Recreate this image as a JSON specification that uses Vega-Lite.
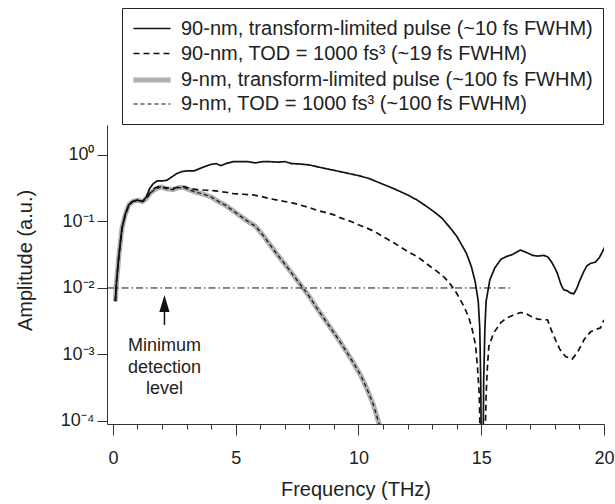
{
  "$schema": "https://vega.github.io/schema/vega-lite/v6.json",
  "width": 497,
  "height": 299,
  "autosize": {"type": "none"},
  "padding": {"left": 107, "top": 125, "right": 11, "bottom": 80},
  "config": {
    "view": {"stroke": null},
    "font": "Liberation Sans",
    "axis": {
      "domainColor": "#333",
      "tickColor": "#333",
      "labelColor": "#222",
      "titleColor": "#222",
      "grid": false,
      "labelFont": "Liberation Sans",
      "titleFont": "Liberation Sans",
      "titleFontWeight": "normal"
    }
  },
  "resolve": {"axis": {"x": "independent", "y": "independent"}},
  "datasets": {
    "curves": [
      {"f": 0.1, "a": 0.00631, "s": "tl9"}, {"f": 0.15, "a": 0.0126, "s": "tl9"}, {"f": 0.24, "a": 0.0295, "s": "tl9"}, {"f": 0.37, "a": 0.0794, "s": "tl9"}, {"f": 0.5, "a": 0.126, "s": "tl9"}, {"f": 0.65, "a": 0.178, "s": "tl9"}, {"f": 0.8, "a": 0.1995, "s": "tl9"}, {"f": 1.0, "a": 0.209, "s": "tl9"}, {"f": 1.2, "a": 0.1995, "s": "tl9"}, {"f": 1.35, "a": 0.219, "s": "tl9"}, {"f": 1.5, "a": 0.263, "s": "tl9"}, {"f": 1.7, "a": 0.302, "s": "tl9"}, {"f": 1.95, "a": 0.331, "s": "tl9"}, {"f": 2.2, "a": 0.309, "s": "tl9"}, {"f": 2.45, "a": 0.302, "s": "tl9"}, {"f": 2.7, "a": 0.324, "s": "tl9"}, {"f": 2.9, "a": 0.324, "s": "tl9"}, {"f": 3.15, "a": 0.295, "s": "tl9"}, {"f": 3.4, "a": 0.275, "s": "tl9"}, {"f": 3.7, "a": 0.257, "s": "tl9"}, {"f": 4.0, "a": 0.234, "s": "tl9"}, {"f": 4.3, "a": 0.1995, "s": "tl9"}, {"f": 4.6, "a": 0.174, "s": "tl9"}, {"f": 4.9, "a": 0.1445, "s": "tl9"}, {"f": 5.2, "a": 0.1202, "s": "tl9"}, {"f": 5.5, "a": 0.1, "s": "tl9"}, {"f": 5.8, "a": 0.0851, "s": "tl9"}, {"f": 6.1, "a": 0.0631, "s": "tl9"}, {"f": 6.4, "a": 0.0447, "s": "tl9"}, {"f": 6.7, "a": 0.0316, "s": "tl9"}, {"f": 7.0, "a": 0.0229, "s": "tl9"}, {"f": 7.35, "a": 0.0155, "s": "tl9"}, {"f": 7.7, "a": 0.01047, "s": "tl9"}, {"f": 8.0, "a": 0.00741, "s": "tl9"}, {"f": 8.3, "a": 0.00501, "s": "tl9"}, {"f": 8.6, "a": 0.00347, "s": "tl9"}, {"f": 8.9, "a": 0.0024, "s": "tl9"}, {"f": 9.2, "a": 0.00166, "s": "tl9"}, {"f": 9.5, "a": 0.00112, "s": "tl9"}, {"f": 9.8, "a": 0.000741, "s": "tl9"}, {"f": 10.1, "a": 0.000479, "s": "tl9"}, {"f": 10.35, "a": 0.000302, "s": "tl9"}, {"f": 10.6, "a": 0.000178, "s": "tl9"}, {"f": 10.83, "a": 0.0000933, "s": "tl9"}, {"f": 10.9, "a": 0.0000794, "s": "tl9"},

      {"f": 0.1, "a": 0.00631, "s": "tod9"}, {"f": 0.15, "a": 0.0126, "s": "tod9"}, {"f": 0.24, "a": 0.0295, "s": "tod9"}, {"f": 0.37, "a": 0.0794, "s": "tod9"}, {"f": 0.5, "a": 0.126, "s": "tod9"}, {"f": 0.65, "a": 0.178, "s": "tod9"}, {"f": 0.8, "a": 0.1995, "s": "tod9"}, {"f": 1.0, "a": 0.209, "s": "tod9"}, {"f": 1.2, "a": 0.1995, "s": "tod9"}, {"f": 1.35, "a": 0.219, "s": "tod9"}, {"f": 1.5, "a": 0.263, "s": "tod9"}, {"f": 1.7, "a": 0.302, "s": "tod9"}, {"f": 1.95, "a": 0.331, "s": "tod9"}, {"f": 2.2, "a": 0.309, "s": "tod9"}, {"f": 2.45, "a": 0.302, "s": "tod9"}, {"f": 2.7, "a": 0.324, "s": "tod9"}, {"f": 2.9, "a": 0.324, "s": "tod9"}, {"f": 3.15, "a": 0.295, "s": "tod9"}, {"f": 3.4, "a": 0.275, "s": "tod9"}, {"f": 3.7, "a": 0.257, "s": "tod9"}, {"f": 4.0, "a": 0.234, "s": "tod9"}, {"f": 4.3, "a": 0.1995, "s": "tod9"}, {"f": 4.6, "a": 0.174, "s": "tod9"}, {"f": 4.9, "a": 0.1445, "s": "tod9"}, {"f": 5.2, "a": 0.1202, "s": "tod9"}, {"f": 5.5, "a": 0.1, "s": "tod9"}, {"f": 5.8, "a": 0.0851, "s": "tod9"}, {"f": 6.1, "a": 0.0631, "s": "tod9"}, {"f": 6.4, "a": 0.0447, "s": "tod9"}, {"f": 6.7, "a": 0.0316, "s": "tod9"}, {"f": 7.0, "a": 0.0229, "s": "tod9"}, {"f": 7.35, "a": 0.0155, "s": "tod9"}, {"f": 7.7, "a": 0.01047, "s": "tod9"}, {"f": 8.0, "a": 0.00741, "s": "tod9"}, {"f": 8.3, "a": 0.00501, "s": "tod9"}, {"f": 8.6, "a": 0.00347, "s": "tod9"}, {"f": 8.9, "a": 0.0024, "s": "tod9"}, {"f": 9.2, "a": 0.00166, "s": "tod9"}, {"f": 9.5, "a": 0.00112, "s": "tod9"}, {"f": 9.8, "a": 0.000741, "s": "tod9"}, {"f": 10.1, "a": 0.000479, "s": "tod9"}, {"f": 10.35, "a": 0.000302, "s": "tod9"}, {"f": 10.6, "a": 0.000178, "s": "tod9"}, {"f": 10.83, "a": 0.0000933, "s": "tod9"}, {"f": 10.9, "a": 0.0000794, "s": "tod9"},

      {"f": 0.1, "a": 0.00631, "s": "tl90"}, {"f": 0.15, "a": 0.0126, "s": "tl90"}, {"f": 0.24, "a": 0.0295, "s": "tl90"}, {"f": 0.37, "a": 0.0794, "s": "tl90"}, {"f": 0.5, "a": 0.126, "s": "tl90"}, {"f": 0.65, "a": 0.178, "s": "tl90"}, {"f": 0.8, "a": 0.1995, "s": "tl90"}, {"f": 1.0, "a": 0.209, "s": "tl90"}, {"f": 1.2, "a": 0.1995, "s": "tl90"}, {"f": 1.35, "a": 0.229, "s": "tl90"}, {"f": 1.5, "a": 0.316, "s": "tl90"}, {"f": 1.65, "a": 0.372, "s": "tl90"}, {"f": 1.8, "a": 0.407, "s": "tl90"}, {"f": 2.0, "a": 0.407, "s": "tl90"}, {"f": 2.2, "a": 0.417, "s": "tl90"}, {"f": 2.4, "a": 0.468, "s": "tl90"}, {"f": 2.6, "a": 0.525, "s": "tl90"}, {"f": 2.8, "a": 0.562, "s": "tl90"}, {"f": 3.0, "a": 0.575, "s": "tl90"}, {"f": 3.3, "a": 0.575, "s": "tl90"}, {"f": 3.5, "a": 0.617, "s": "tl90"}, {"f": 3.7, "a": 0.661, "s": "tl90"}, {"f": 4.0, "a": 0.724, "s": "tl90"}, {"f": 4.2, "a": 0.741, "s": "tl90"}, {"f": 4.4, "a": 0.692, "s": "tl90"}, {"f": 4.6, "a": 0.741, "s": "tl90"}, {"f": 4.9, "a": 0.794, "s": "tl90"}, {"f": 5.2, "a": 0.794, "s": "tl90"}, {"f": 5.5, "a": 0.794, "s": "tl90"}, {"f": 5.8, "a": 0.759, "s": "tl90"}, {"f": 6.1, "a": 0.794, "s": "tl90"}, {"f": 6.4, "a": 0.794, "s": "tl90"}, {"f": 6.7, "a": 0.78, "s": "tl90"}, {"f": 7.0, "a": 0.794, "s": "tl90"}, {"f": 7.3, "a": 0.741, "s": "tl90"}, {"f": 7.6, "a": 0.733, "s": "tl90"}, {"f": 8.0, "a": 0.708, "s": "tl90"}, {"f": 8.6, "a": 0.631, "s": "tl90"}, {"f": 9.0, "a": 0.589, "s": "tl90"}, {"f": 9.5, "a": 0.537, "s": "tl90"}, {"f": 10.0, "a": 0.49, "s": "tl90"}, {"f": 10.4, "a": 0.447, "s": "tl90"}, {"f": 11.0, "a": 0.363, "s": "tl90"}, {"f": 11.4, "a": 0.316, "s": "tl90"}, {"f": 11.7, "a": 0.282, "s": "tl90"}, {"f": 12.0, "a": 0.251, "s": "tl90"}, {"f": 12.4, "a": 0.209, "s": "tl90"}, {"f": 12.8, "a": 0.166, "s": "tl90"}, {"f": 13.1, "a": 0.138, "s": "tl90"}, {"f": 13.4, "a": 0.1122, "s": "tl90"}, {"f": 13.7, "a": 0.0832, "s": "tl90"}, {"f": 14.0, "a": 0.0603, "s": "tl90"}, {"f": 14.2, "a": 0.0447, "s": "tl90"}, {"f": 14.4, "a": 0.0331, "s": "tl90"}, {"f": 14.6, "a": 0.0209, "s": "tl90"}, {"f": 14.75, "a": 0.0126, "s": "tl90"}, {"f": 14.88, "a": 0.00631, "s": "tl90"}, {"f": 14.94, "a": 0.00251, "s": "tl90"}, {"f": 14.98, "a": 0.000398, "s": "tl90"}, {"f": 15.04, "a": 0.000001, "s": "tl90"}, {"f": 15.1, "a": 0.000398, "s": "tl90"}, {"f": 15.15, "a": 0.00251, "s": "tl90"}, {"f": 15.2, "a": 0.00631, "s": "tl90"}, {"f": 15.35, "a": 0.01318, "s": "tl90"}, {"f": 15.55, "a": 0.01995, "s": "tl90"}, {"f": 15.8, "a": 0.0269, "s": "tl90"}, {"f": 16.0, "a": 0.0295, "s": "tl90"}, {"f": 16.25, "a": 0.0316, "s": "tl90"}, {"f": 16.45, "a": 0.0347, "s": "tl90"}, {"f": 16.6, "a": 0.0372, "s": "tl90"}, {"f": 16.8, "a": 0.0347, "s": "tl90"}, {"f": 17.1, "a": 0.0309, "s": "tl90"}, {"f": 17.3, "a": 0.0302, "s": "tl90"}, {"f": 17.55, "a": 0.0309, "s": "tl90"}, {"f": 17.7, "a": 0.0295, "s": "tl90"}, {"f": 17.85, "a": 0.0251, "s": "tl90"}, {"f": 18.0, "a": 0.01995, "s": "tl90"}, {"f": 18.1, "a": 0.0166, "s": "tl90"}, {"f": 18.25, "a": 0.01122, "s": "tl90"}, {"f": 18.36, "a": 0.00933, "s": "tl90"}, {"f": 18.5, "a": 0.00912, "s": "tl90"}, {"f": 18.6, "a": 0.00851, "s": "tl90"}, {"f": 18.77, "a": 0.00813, "s": "tl90"}, {"f": 18.9, "a": 0.01, "s": "tl90"}, {"f": 19.0, "a": 0.01259, "s": "tl90"}, {"f": 19.18, "a": 0.01778, "s": "tl90"}, {"f": 19.3, "a": 0.0214, "s": "tl90"}, {"f": 19.45, "a": 0.0234, "s": "tl90"}, {"f": 19.65, "a": 0.0245, "s": "tl90"}, {"f": 19.8, "a": 0.0282, "s": "tl90"}, {"f": 19.9, "a": 0.0331, "s": "tl90"}, {"f": 20.05, "a": 0.0427, "s": "tl90"},

      {"f": 0.1, "a": 0.00631, "s": "tod90"}, {"f": 0.15, "a": 0.0126, "s": "tod90"}, {"f": 0.24, "a": 0.0295, "s": "tod90"}, {"f": 0.37, "a": 0.0794, "s": "tod90"}, {"f": 0.5, "a": 0.126, "s": "tod90"}, {"f": 0.65, "a": 0.178, "s": "tod90"}, {"f": 0.8, "a": 0.1995, "s": "tod90"}, {"f": 1.0, "a": 0.209, "s": "tod90"}, {"f": 1.2, "a": 0.1995, "s": "tod90"}, {"f": 1.35, "a": 0.219, "s": "tod90"}, {"f": 1.5, "a": 0.263, "s": "tod90"}, {"f": 1.7, "a": 0.316, "s": "tod90"}, {"f": 1.9, "a": 0.339, "s": "tod90"}, {"f": 2.1, "a": 0.324, "s": "tod90"}, {"f": 2.3, "a": 0.316, "s": "tod90"}, {"f": 2.5, "a": 0.316, "s": "tod90"}, {"f": 2.7, "a": 0.331, "s": "tod90"}, {"f": 2.9, "a": 0.331, "s": "tod90"}, {"f": 3.1, "a": 0.316, "s": "tod90"}, {"f": 3.4, "a": 0.302, "s": "tod90"}, {"f": 3.8, "a": 0.295, "s": "tod90"}, {"f": 4.2, "a": 0.288, "s": "tod90"}, {"f": 4.6, "a": 0.275, "s": "tod90"}, {"f": 4.9, "a": 0.263, "s": "tod90"}, {"f": 5.3, "a": 0.257, "s": "tod90"}, {"f": 5.7, "a": 0.251, "s": "tod90"}, {"f": 6.0, "a": 0.24, "s": "tod90"}, {"f": 6.3, "a": 0.224, "s": "tod90"}, {"f": 6.7, "a": 0.209, "s": "tod90"}, {"f": 7.0, "a": 0.1995, "s": "tod90"}, {"f": 7.3, "a": 0.1905, "s": "tod90"}, {"f": 7.6, "a": 0.178, "s": "tod90"}, {"f": 8.0, "a": 0.162, "s": "tod90"}, {"f": 8.3, "a": 0.148, "s": "tod90"}, {"f": 8.6, "a": 0.138, "s": "tod90"}, {"f": 9.0, "a": 0.126, "s": "tod90"}, {"f": 9.3, "a": 0.1122, "s": "tod90"}, {"f": 9.7, "a": 0.1, "s": "tod90"}, {"f": 10.0, "a": 0.0891, "s": "tod90"}, {"f": 10.35, "a": 0.0794, "s": "tod90"}, {"f": 10.7, "a": 0.0692, "s": "tod90"}, {"f": 11.0, "a": 0.0589, "s": "tod90"}, {"f": 11.35, "a": 0.0501, "s": "tod90"}, {"f": 11.7, "a": 0.0417, "s": "tod90"}, {"f": 12.0, "a": 0.0355, "s": "tod90"}, {"f": 12.4, "a": 0.0295, "s": "tod90"}, {"f": 12.9, "a": 0.0214, "s": "tod90"}, {"f": 13.2, "a": 0.01778, "s": "tod90"}, {"f": 13.5, "a": 0.01445, "s": "tod90"}, {"f": 13.8, "a": 0.01072, "s": "tod90"}, {"f": 14.0, "a": 0.00832, "s": "tod90"}, {"f": 14.3, "a": 0.00525, "s": "tod90"}, {"f": 14.5, "a": 0.00355, "s": "tod90"}, {"f": 14.63, "a": 0.0024, "s": "tod90"}, {"f": 14.77, "a": 0.00138, "s": "tod90"}, {"f": 14.85, "a": 0.000631, "s": "tod90"}, {"f": 14.92, "a": 0.000251, "s": "tod90"}, {"f": 15.05, "a": 0.000001, "s": "tod90"}, {"f": 15.2, "a": 0.000251, "s": "tod90"}, {"f": 15.25, "a": 0.000631, "s": "tod90"}, {"f": 15.31, "a": 0.00132, "s": "tod90"}, {"f": 15.5, "a": 0.00209, "s": "tod90"}, {"f": 15.8, "a": 0.00302, "s": "tod90"}, {"f": 16.0, "a": 0.00347, "s": "tod90"}, {"f": 16.3, "a": 0.00389, "s": "tod90"}, {"f": 16.6, "a": 0.00427, "s": "tod90"}, {"f": 16.8, "a": 0.00417, "s": "tod90"}, {"f": 17.0, "a": 0.0038, "s": "tod90"}, {"f": 17.3, "a": 0.00339, "s": "tod90"}, {"f": 17.7, "a": 0.00331, "s": "tod90"}, {"f": 17.85, "a": 0.00234, "s": "tod90"}, {"f": 18.05, "a": 0.00158, "s": "tod90"}, {"f": 18.2, "a": 0.0012, "s": "tod90"}, {"f": 18.43, "a": 0.000933, "s": "tod90"}, {"f": 18.7, "a": 0.000851, "s": "tod90"}, {"f": 18.9, "a": 0.00105, "s": "tod90"}, {"f": 19.05, "a": 0.00132, "s": "tod90"}, {"f": 19.2, "a": 0.0017, "s": "tod90"}, {"f": 19.45, "a": 0.00219, "s": "tod90"}, {"f": 19.7, "a": 0.0024, "s": "tod90"}, {"f": 19.86, "a": 0.00251, "s": "tod90"}, {"f": 20.0, "a": 0.00331, "s": "tod90"}
    ],
    "level": [{"x": -0.24, "x2": 16.25, "y": 0.01}],
    "arrow": [{"x": 2.1, "y": 0.00278, "y2": 0.0058, "tip": 0.00585}],
    "note": [{"x": 2.1, "y": 0.00134, "t": "Minimum\ndetection\nlevel"}]
  },
  "layer": [
    {
      "data": {"name": "curves"},
      "transform": [{"filter": "datum.s === 'tl9'"}],
      "mark": {"type": "line", "clip": true, "strokeCap": "butt", "strokeJoin": "round"},
      "encoding": {
        "x": {
          "field": "f", "type": "quantitative",
          "scale": {"domain": [-0.24, 20], "nice": false, "zero": false},
          "axis": {
            "orient": "bottom",
            "values": [0, 1, 2, 3, 4, 5, 6, 7, 8, 9, 10, 11, 12, 13, 14, 15, 16, 17, 18, 19, 20],
            "tickSize": {"condition": {"test": "datum.value % 5 === 0", "value": 11}, "value": 5},
            "labelExpr": "datum.value % 5 === 0 ? datum.label : ''",
            "labelFontSize": 18,
            "labelPadding": 14,
            "labelFlush": false,
            "title": "Frequency (THz)",
            "titleFontSize": 20,
            "titlePadding": 12
          }
        },
        "y": {
          "field": "a", "type": "quantitative",
          "scale": {"type": "log", "domain": [0.00009, 2.825], "nice": false},
          "axis": {
            "orient": "left",
            "values": [0.0001, 0.001, 0.01, 0.1, 1],
            "tickSize": 10,
            "labelFontSize": 18,
            "labelPadding": 3,
            "labelExpr": "datum.value > 0.5 ? '10⁰' : datum.value > 0.05 ? '10⁻¹' : datum.value > 0.005 ? '10⁻²' : datum.value > 0.0005 ? '10⁻³' : '10⁻⁴'",
            "title": "Amplitude (a.u.)",
            "titleFontSize": 20,
            "titleBaseline": "middle",
            "titleX": -82,
            "titleY": 135
          }
        },
        "color": {
          "field": "s", "type": "nominal",
          "scale": {"domain": ["tl90", "tod90", "tl9", "tod9"], "range": ["#111111", "#111111", "#b0b0b0", "#111111"]},
          "legend": {
            "orient": "none",
            "legendX": 15,
            "legendY": -117,
            "title": null,
            "symbolType": "M-2,0L2,0",
            "symbolSize": 342,
            "symbolOffset": 8,
            "labelFontSize": 20,
            "labelFont": "Liberation Sans",
            "labelColor": "#222",
            "labelOffset": 17,
            "labelLimit": 1000,
            "rowPadding": 4,
            "padding": 10,
            "strokeColor": "#222",
            "labelExpr": "datum.value === 'tl90' ? '90-nm, transform-limited pulse (~10 fs FWHM)' : datum.value === 'tod90' ? '90-nm, TOD = 1000 fs³ (~19 fs FWHM)' : datum.value === 'tl9' ? '9-nm, transform-limited pulse (~100 fs FWHM)' : '9-nm, TOD = 1000 fs³ (~100 fs FWHM)'"
          }
        },
        "strokeDash": {
          "field": "s", "type": "nominal",
          "scale": {"domain": ["tl90", "tod90", "tl9", "tod9"], "range": [[1, 0], [6, 4], [1, 0], [4, 3]]}
        },
        "strokeWidth": {
          "field": "s", "type": "nominal",
          "scale": {"type": "ordinal", "domain": ["tl90", "tod90", "tl9", "tod9"], "range": [1.7, 1.7, 5, 1.2]}
        }
      }
    },
    {
      "data": {"name": "curves"},
      "transform": [{"filter": "datum.s !== 'tl9'"}],
      "mark": {"type": "line", "clip": true, "strokeCap": "butt", "strokeJoin": "round"},
      "encoding": {
        "x": {"field": "f", "type": "quantitative", "axis": null},
        "y": {"field": "a", "type": "quantitative", "axis": null},
        "color": {
          "field": "s", "type": "nominal",
          "scale": {"domain": ["tl90", "tod90", "tl9", "tod9"], "range": ["#111111", "#111111", "#b0b0b0", "#111111"]}
        },
        "strokeDash": {
          "field": "s", "type": "nominal",
          "scale": {"domain": ["tl90", "tod90", "tl9", "tod9"], "range": [[1, 0], [6, 4], [1, 0], [4, 3]]}
        },
        "strokeWidth": {
          "field": "s", "type": "nominal",
          "scale": {"type": "ordinal", "domain": ["tl90", "tod90", "tl9", "tod9"], "range": [1.7, 1.7, 5, 1.2]}
        }
      }
    },
    {
      "data": {"name": "level"},
      "mark": {"type": "rule", "color": "#111", "strokeWidth": 1, "strokeDash": [7, 3, 1.5, 3]},
      "encoding": {
        "x": {"field": "x", "type": "quantitative", "axis": null},
        "x2": {"field": "x2"},
        "y": {"field": "y", "type": "quantitative", "axis": null}
      }
    },
    {
      "data": {"name": "arrow"},
      "mark": {"type": "rule", "color": "#111", "strokeWidth": 1.5},
      "encoding": {
        "x": {"field": "x", "type": "quantitative", "axis": null},
        "y": {"field": "y", "type": "quantitative", "axis": null},
        "y2": {"field": "y2"}
      }
    },
    {
      "data": {"name": "arrow"},
      "mark": {"type": "point", "filled": true, "color": "#111", "opacity": 1, "shape": "M0,-1L0.6,1L-0.6,1Z", "size": 289},
      "encoding": {
        "x": {"field": "x", "type": "quantitative", "axis": null},
        "y": {"field": "tip", "type": "quantitative", "axis": null}
      }
    },
    {
      "data": {"name": "note"},
      "mark": {"type": "text", "lineBreak": "\n", "fontSize": 18, "lineHeight": 21.5, "align": "center", "baseline": "middle", "color": "#222", "font": "Liberation Sans"},
      "encoding": {
        "x": {"field": "x", "type": "quantitative", "axis": null},
        "y": {"field": "y", "type": "quantitative", "axis": null},
        "text": {"field": "t"}
      }
    }
  ]
}
